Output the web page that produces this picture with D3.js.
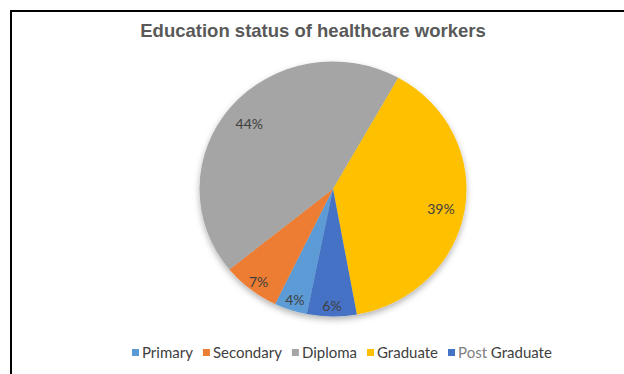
<!DOCTYPE html>
<html>
<head>
<meta charset="utf-8">
<script src="https://cdn.jsdelivr.net/npm/d3@7"></script>
<style>
  html, body { margin: 0; padding: 0; background: #fff; }
  svg { display: block; }
</style>
</head>
<body>
<svg id="chart" width="624" height="374"></svg>
<script>
// ---- data ----
const categories = ["Primary", "Secondary", "Diploma", "Graduate", "Post Graduate"];
const values = [4, 7, 44, 39, 6];
const valueLabels = ["4%", "7%", "44%", "39%", "6%"];
const colors = ["#5B9BD5", "#ED7D31", "#A5A5A5", "#FFC000", "#4472C4"];
const title = "Education status of healthcare workers";

// ---- layout ----
const svg = d3.select("#chart");
const cx = 333, cy = 189, r = 127.5, sx = 1.047;
const startDeg = 191.3;

const defs = svg.append("defs");
const f = defs.append("filter").attr("id", "shadow").attr("x", "-20%").attr("y", "-20%").attr("width", "140%").attr("height", "140%");
f.append("feDropShadow").attr("dx", 0).attr("dy", 3).attr("stdDeviation", 3)
  .attr("flood-color", "#000").attr("flood-opacity", 0.3);

// chart area border (right and bottom edges lie outside the view)
svg.append("rect")
  .attr("x", 11).attr("y", 11).attr("width", 700).attr("height", 400)
  .attr("fill", "#fff").attr("stroke", "#000").attr("stroke-width", 2);

svg.append("text")
  .attr("x", 313).attr("y", 37)
  .attr("text-anchor", "middle")
  .attr("font-family", "Liberation Sans, Arial, sans-serif")
  .attr("font-weight", "bold")
  .attr("font-size", 18.5)
  .attr("fill", "#595959")
  .text(title);

const data = categories.map((c, i) => ({ cat: c, value: values[i], label: valueLabels[i], color: colors[i] }));

const pie = d3.pie().sort(null).value(d => d.value)
  .startAngle(startDeg * Math.PI / 180)
  .endAngle(startDeg * Math.PI / 180 + 2 * Math.PI);
const arcs = pie(data);
const arc = d3.arc().innerRadius(0).outerRadius(r);

const g = svg.append("g")
  .attr("transform", `translate(${cx},${cy}) scale(${sx},1)`)
  .attr("filter", "url(#shadow)");
g.selectAll("path").data(arcs).join("path")
  .attr("d", arc)
  .attr("fill", d => d.data.color);

// labels
const lg = svg.append("g").attr("transform", `translate(${cx},${cy})`);
lg.selectAll("text").data(arcs).join("text")
  .each(function (d) {
    const k = d.data.value >= 20 ? 0.82 : 0.9;
    const la = d3.arc().innerRadius(r * k).outerRadius(r * k);
    const [x, y] = la.centroid(d);
    d3.select(this).attr("x", x * sx).attr("y", y + 2);
  })
  .attr("text-anchor", "middle")
  .attr("dominant-baseline", "central")
  .attr("font-family", "Lato, Carlito, sans-serif")
  .attr("font-size", 14)
  .attr("fill", "#404040")
  .text(d => d.data.label);

// legend
const legend = svg.append("g").attr("font-family", "Lato, Carlito, sans-serif").attr("font-size", 15);
const legY = 358;
let x = 132;
data.forEach(d => {
  const item = legend.append("g");
  item.append("rect").attr("x", x).attr("y", legY - 9).attr("width", 7).attr("height", 7).attr("fill", d.color);
  const t = item.append("text").attr("x", x + 10).attr("y", legY).attr("fill", "#404040");
  if (d.cat === "Post Graduate") {
    t.append("tspan").attr("fill", "#7f7f7f").text("Post");
    t.append("tspan").text(" Graduate");
  } else {
    t.text(d.cat);
  }
  const w = t.node().getComputedTextLength();
  x += 10 + w + 10;
});
</script>
</body>
</html>
